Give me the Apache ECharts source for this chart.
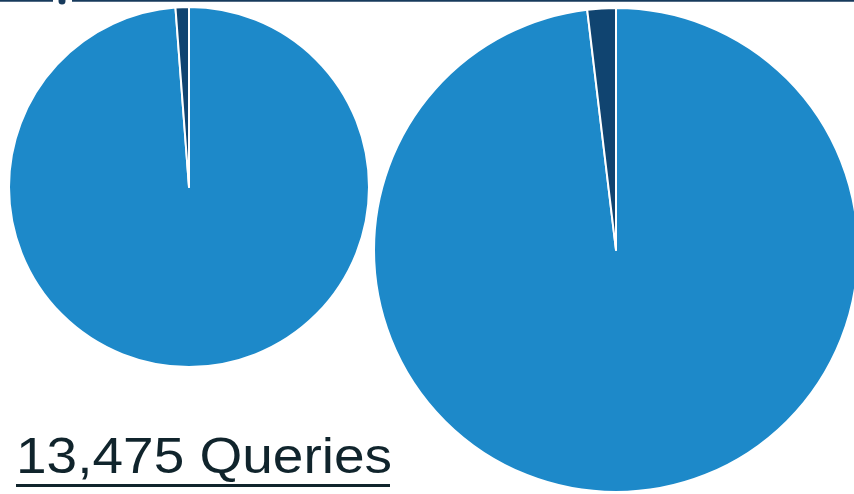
<!DOCTYPE html>
<html>
<head>
<meta charset="utf-8">
<style>
  html, body { margin: 0; padding: 0; background: #ffffff; }
  #chart { width: 854px; height: 494px; }
</style>
<script src="https://cdn.jsdelivr.net/npm/echarts@6/dist/echarts.min.js"></script>
</head>
<body>
<div id="chart"></div>
<script>
// Slice names shared by both pies
const sliceNames = ['Other', 'Matched'];
// Share of each slice (percent), small pie and large pie
const smallPieValues = [98.8, 1.2];
const largePieValues = [98.1, 1.9];
// Caption under the charts
const captionText = '13,475 Queries';

const lightBlue = '#1d89c9';
const darkBlue = '#104470';

function pieData(values) {
  return sliceNames.map((name, i) => ({
    name: name,
    value: values[i],
    itemStyle: { color: i === 0 ? lightBlue : darkBlue }
  }));
}

const chart = echarts.init(document.getElementById('chart'), null, { renderer: 'canvas' });

const pieBase = {
  type: 'pie',
  startAngle: 90,
  clockwise: true,
  label: { show: false },
  labelLine: { show: false },
  emphasis: { disabled: true },
  itemStyle: { borderColor: '#ffffff', borderWidth: 2 }
};

chart.setOption({
  animation: false,
  backgroundColor: '#ffffff',
  series: [
    Object.assign({}, pieBase, {
      center: [189, 187],
      radius: 180,
      data: pieData(smallPieValues)
    }),
    Object.assign({}, pieBase, {
      center: [616, 250],
      radius: 242,
      data: pieData(largePieValues)
    })
  ],
  graphic: [
    // thin rule along the top edge with its marker dot
    { type: 'line', shape: { x1: 0, y1: 0.8, x2: 53, y2: 0.8 }, style: { stroke: '#173a5c', lineWidth: 2 } },
    { type: 'line', shape: { x1: 72, y1: 0.8, x2: 854, y2: 0.8 }, style: { stroke: '#173a5c', lineWidth: 2 } },
    { type: 'circle', shape: { cx: 62, cy: 1, r: 3.5 }, style: { fill: '#173a5c' } },
    // caption, slightly widened, with underline
    {
      type: 'text',
      x: 16,
      y: 434,
      scaleX: 1.1,
      originX: 0,
      style: {
        text: captionText,
        fontFamily: 'Arial',
        fontSize: 50,
        verticalAlign: 'top',
        fill: '#10242c'
      }
    },
    { type: 'rect', shape: { x: 16, y: 484, width: 374, height: 3 }, style: { fill: '#10242c' } }
  ]
});
</script>
</body>
</html>
